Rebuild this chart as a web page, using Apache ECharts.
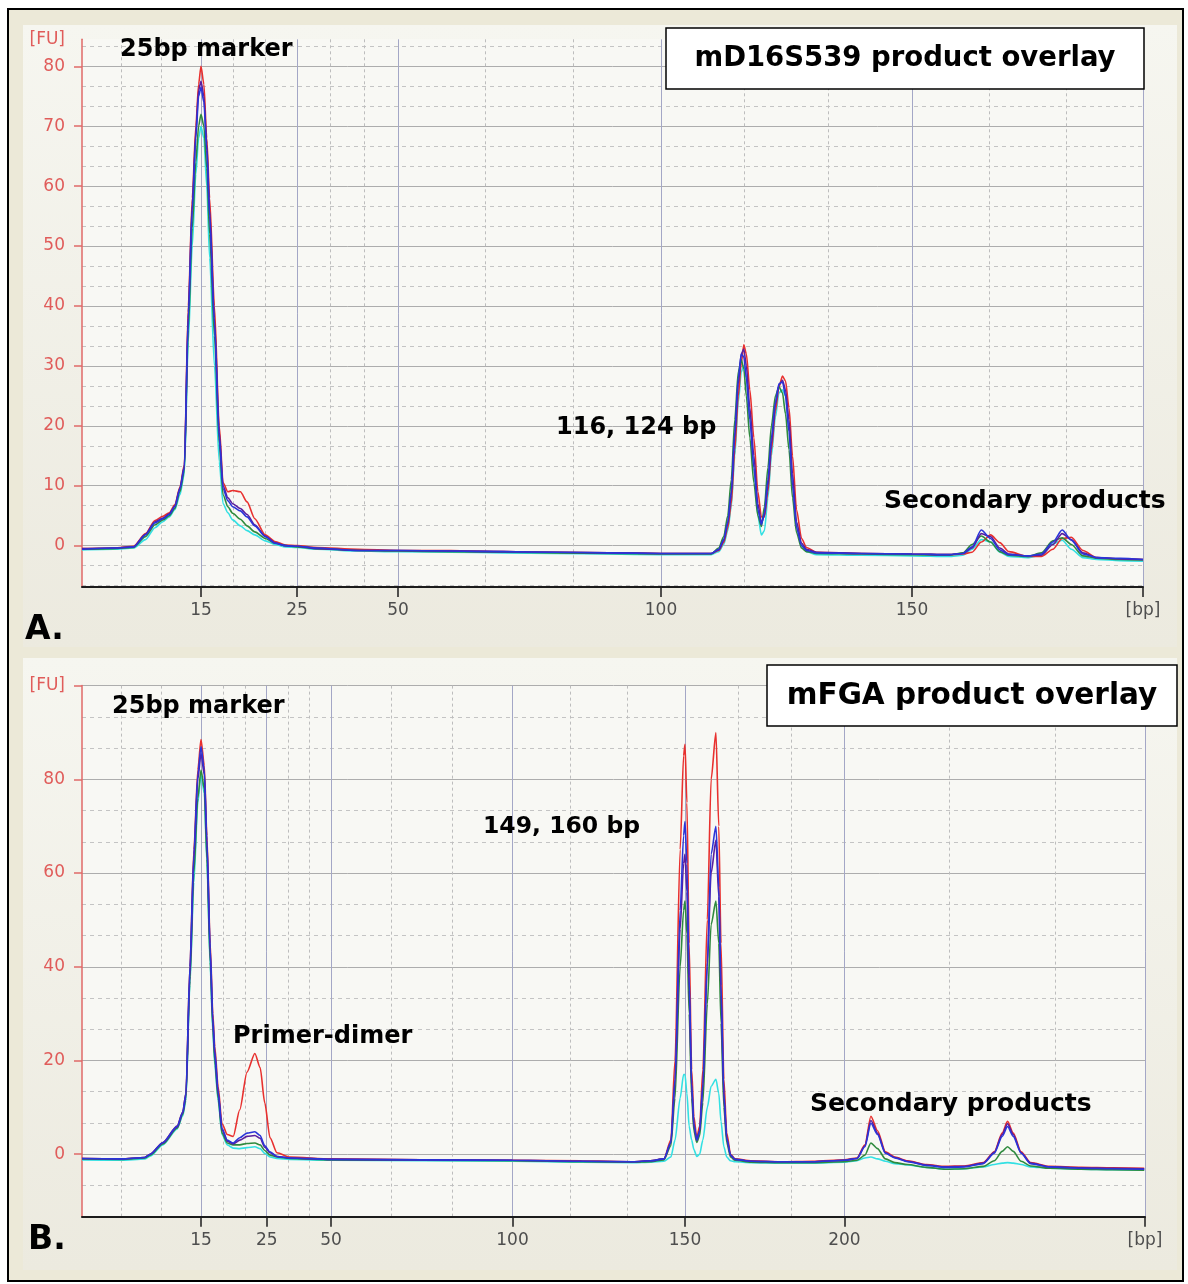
<!DOCTYPE html>
<html><head><meta charset="utf-8">
<script src="https://cdn.jsdelivr.net/npm/echarts@6/dist/echarts.min.js"></script>
<style>html,body{margin:0;padding:0;background:#fff}#c{width:1188px;height:1284px}</style>
</head><body><div id="c"></div>
<script>
// ---------- Size-standard ladder calibration (bp -> migration time, s) ----------
const ladderBpA   = [0, 15, 25, 50, 100, 150, 200];
const ladderTimeA = [40.00, 44.486, 48.106, 51.913, 61.828, 71.291, 80.00];
const ladderBpB   = [0, 15, 25, 50, 100, 150, 200, 300];
const ladderTimeB = [40.00, 44.478, 46.950, 49.370, 56.199, 62.690, 68.688, 80.564];
const tickBpA = [15, 25, 50, 100, 150];
const tickBpB = [15, 25, 50, 100, 150, 200];
const fuTicksA = [0, 10, 20, 30, 40, 50, 60, 70, 80];
const fuTicksB = [0, 20, 40, 60, 80, 100];
const seriesNames = ['Sample 1', 'Sample 2', 'Sample 3', 'Sample 4', 'Sample 5'];

// ---------- Panel A : mD16S539 (x in bp, y in FU) ----------
const bpA = [
  0, 4, 6.5, 8, 9.2, 10.2, 11, 11.7, 12.35, 12.9,
  13.4, 13.9, 14.35, 14.7, 15, 15.3, 15.6, 15.9, 16.4, 16.9,
  17.3, 17.8, 18.3, 19.1, 19.8, 20.6, 21.7, 22.7, 23.8, 25,
  30, 40, 50, 60, 70, 80, 90, 100, 105, 110,
  111.5, 112.5, 113.3, 114, 114.7, 115.4, 116, 116.5, 117, 117.7,
  118.5, 119.3, 120, 120.6, 121.3, 122, 122.8, 123.5, 124.2, 124.8,
  125.5, 126.2, 127, 128, 129, 131, 140, 150, 158, 161,
  163, 165, 167, 169, 171, 175, 178, 180.5, 182.5, 184.5,
  187, 190, 195, 200
];
const redA = [
  -0.5, -0.4, -0.1, 2.0, 4.2, 4.9, 5.5, 6.8, 9.8, 13.5,
  40, 58, 70, 77, 80, 77, 68, 58, 40, 20,
  10.5, 9.0, 9.2, 9.0, 7.3, 4.5, 1.8, 0.7, 0.1, 0,
  -0.3, -0.6, -0.8, -0.8, -1.0, -1.1, -1.2, -1.3, -1.3, -1.3,
  -0.8, 0.5, 3, 7, 16, 25, 30.5, 33.5, 32, 26,
  18, 9, 4.8, 4.8, 9, 16, 22.5, 26.5, 28.3, 27.5,
  23, 15, 6, 1.2, -0.3, -1.1, -1.3, -1.4, -1.5, -1.4,
  -1.1, 0.6, 1.8, 0.5, -1.0, -1.8, -1.8, -0.6, 1.2, 1.4,
  -0.8, -2.0, -2.2, -2.3
];
const blueA = [
  -0.6, -0.4, -0.2, 1.8, 3.8, 4.5, 5.2, 6.5, 9.5, 13,
  38, 56, 68, 75, 76.5, 74, 66, 55, 37, 18,
  9.5, 7.5, 6.5, 5.8, 4.8, 3.3, 1.5, 0.4, 0, -0.1,
  -0.4, -0.8, -0.8, -0.9, -1.0, -1.1, -1.2, -1.3, -1.3, -1.3,
  -0.6, 1.0, 4, 9, 19, 28, 32, 31.5, 28, 21,
  13, 6, 3.5, 5.5, 11, 18, 24, 27, 27.3, 25,
  19, 10, 3, 0, -0.8, -1.2, -1.3, -1.4, -1.5, -1.3,
  -0.2, 2.6, 1.2, -0.7, -1.5, -1.7, -1.4, 0.6, 2.6, 0.9,
  -1.4, -2.0, -2.1, -2.3
];
const purpleA = [
  -0.5, -0.4, -0.2, 1.9, 4.0, 4.6, 5.3, 6.6, 9.6, 13.2,
  39, 57, 69, 76, 77.5, 75, 67, 56, 38, 19,
  10, 8, 7, 6.2, 5.2, 3.5, 1.6, 0.5, 0.0, -0.1,
  -0.5, -0.8, -0.8, -0.9, -1.0, -1.1, -1.2, -1.3, -1.3, -1.3,
  -0.7, 0.8, 3.6, 8.4, 18, 27, 32, 32.8, 30, 23,
  15, 7, 3.8, 5, 10, 17, 23.5, 26.8, 27.6, 26,
  21, 12, 4, 0.4, -0.6, -1.1, -1.3, -1.4, -1.5, -1.3,
  -0.4, 2.0, 1.5, -0.4, -1.4, -1.7, -1.6, 0.2, 2.0, 1.0,
  -1.2, -2.0, -2.2, -2.3
];
const greenA = [
  -0.6, -0.5, -0.3, 1.5, 3.5, 4.3, 5.0, 6.2, 9.0, 12.5,
  36, 53, 64, 70, 72, 70, 63, 52, 35, 17,
  8.5, 6.5, 5.4, 4.4, 3.3, 2.3, 1.2, 0.4, 0, -0.2,
  -0.5, -0.8, -0.9, -1.0, -1.1, -1.2, -1.3, -1.4, -1.4, -1.4,
  -0.4, 1.5, 5, 11, 21, 29, 31, 29.5, 25, 18,
  10.5, 5, 3.2, 6.5, 13, 20, 25, 26.5, 25.5, 22,
  16, 8, 2.2, -0.4, -1.0, -1.3, -1.4, -1.5, -1.6, -1.2,
  0.2, 1.6, 0.6, -1.0, -1.6, -1.8, -1.2, 0.8, 1.3, 0.2,
  -1.7, -2.1, -2.3, -2.4
];
const cyanA = [
  -0.7, -0.6, -0.4, 1.0, 3.0, 4.0, 4.8, 6.0, 8.5, 12,
  34, 50, 62, 68, 70, 68, 60, 48, 30, 14,
  7.0, 5.5, 4.3, 3.3, 2.5, 1.8, 0.8, 0.2, -0.2, -0.3,
  -0.6, -0.9, -1.0, -1.1, -1.2, -1.3, -1.4, -1.5, -1.5, -1.5,
  -1.0, 0.2, 2.5, 6.5, 15, 24, 29, 30, 28, 22,
  13, 5, 1.8, 2.5, 8, 15, 21.5, 25.5, 26, 25,
  20, 11, 3.5, 0, -1.0, -1.5, -1.6, -1.7, -1.8, -1.6,
  -0.6, 1.0, 0.6, -1.1, -1.8, -2.0, -1.6, 0.3, 0.9, -0.6,
  -2.0, -2.3, -2.5, -2.6
];

// ---------- Panel B : mFGA ----------
const bpB = [
  0, 5, 7.9, 8.6, 10.2, 12, 12.7, 13.1, 13.6, 14.1,
  14.6, 15, 15.5, 15.9, 16.4, 16.8, 17.1, 17.6, 18.2, 19,
  19.9, 20.9, 22, 23.2, 24, 24.7, 26.3, 29, 34, 50,
  75, 100, 120, 135, 140, 143.9, 145.9, 147.1, 148.6, 149.6,
  150, 150.6, 151.3, 152.1, 152.8, 153.7, 154.6, 155.6, 157, 158.2,
  159.7, 160.6, 161.3, 162.2, 163.1, 164.3, 165.7, 170.7, 180, 190,
  200, 204, 206.5, 208.4, 210.5, 213, 216, 220, 226, 232,
  238, 244, 247.5, 250, 251.7, 253.5, 256, 259, 265, 275,
  285, 295
];
const redB = [
  -0.9, -1.0, -0.7, 0, 2.5, 6, 9, 13, 40, 65,
  82, 88.5, 83, 68, 45, 30, 23, 14.5, 6.5, 4.2,
  3.8, 9.5, 17.5, 21.5, 18.5, 11, 3.5, 0.3, -0.6, -1.0,
  -1.2, -1.3, -1.4, -1.6, -1.4, -1.0, 3, 20, 65, 85,
  87.5, 75, 45, 18, 8, 3.5, 6, 18, 50, 80,
  90, 70, 45, 16, 4.5, 0, -1.0, -1.4, -1.6, -1.5,
  -1.2, -0.8, 2, 8.1, 5, 0.5, -0.6, -1.4, -2.2, -2.6,
  -2.5, -1.8, 0.5, 4.5, 7, 4.5, 0.5, -1.8, -2.6, -2.8,
  -2.9, -3.0
];
const blueB = [
  -0.9, -1.0, -0.7, 0, 2.5, 6, 9, 13, 40, 64,
  81, 87, 82, 67, 44, 29, 22, 13.5, 5.5, 3.0,
  2.4, 3.5, 4.5, 4.8, 4.0, 1.8, 0.5, -0.5, -0.8, -1.1,
  -1.2, -1.3, -1.5, -1.6, -1.4, -1.0, 2.5, 16, 52, 68,
  71, 62, 38, 15, 6.5, 3, 5, 15, 41, 64,
  70, 57, 36, 13, 3.5, -0.2, -1.1, -1.5, -1.6, -1.6,
  -1.3, -0.9, 1.6, 6.6, 4.2, 0.2, -0.8, -1.6, -2.4, -2.8,
  -2.7, -2.0, 0.2, 3.8, 5.9, 3.8, 0.2, -2.0, -2.7, -3.0,
  -3.1, -3.2
];
const purpleB = [
  -0.9, -1.0, -0.7, 0, 2.4, 5.8, 8.8, 12.5, 38, 63,
  80, 85.5, 81, 66, 43, 28, 21, 13, 5.2, 2.8,
  2.2, 3.0, 3.8, 4.0, 3.4, 1.5, 0.3, -0.5, -0.8, -1.1,
  -1.2, -1.3, -1.5, -1.6, -1.4, -1.0, 2.4, 15, 48, 62,
  64, 56, 35, 14, 6, 3, 5, 14, 40, 60,
  67, 55, 34, 12, 3.2, -0.3, -1.1, -1.5, -1.6, -1.6,
  -1.3, -0.9, 1.8, 7.2, 4.5, 0.3, -0.7, -1.5, -2.3, -2.7,
  -2.6, -1.9, 0.4, 4.2, 6.5, 4.2, 0.3, -1.9, -2.7, -2.9,
  -3.0, -3.1
];
const greenB = [
  -1.0, -1.1, -0.8, -0.2, 2.2, 5.6, 8.5, 12, 37, 60,
  76, 82, 78, 63, 41, 27, 20, 12, 4.5, 2.4,
  2.0, 2.0, 2.3, 2.4, 2.0, 0.8, -0.2, -0.6, -0.9, -1.2,
  -1.3, -1.4, -1.6, -1.7, -1.6, -1.2, 1.8, 12, 40, 52,
  54, 47, 30, 12, 5, 2.5, 4, 11, 32, 49,
  54, 45, 28, 10, 2.5, -0.6, -1.3, -1.7, -1.8, -1.8,
  -1.6, -1.3, -0.2, 2.4, 1.2, -1.0, -1.8, -2.2, -2.8, -3.2,
  -3.1, -2.6, -1.4, 0.6, 1.6, 0.6, -1.5, -2.5, -3.0, -3.2,
  -3.3, -3.4
];
const cyanB = [
  -1.2, -1.3, -1.0, -0.4, 2.0, 5.4, 8.2, 11.5, 36, 58,
  75, 81, 77, 62, 40, 26, 19, 11.5, 4.2, 2.0,
  1.3, 1.2, 1.4, 1.6, 1.2, 0.2, -0.6, -0.9, -1.1, -1.3,
  -1.4, -1.5, -1.7, -1.8, -1.7, -1.5, -0.6, 3, 12, 17,
  17, 13, 6, 3, 1, -0.5, 0, 3, 10, 14.5,
  16, 13, 7, 1.6, -0.6, -1.4, -1.6, -1.8, -1.9, -1.9,
  -1.7, -1.4, -0.8, -0.6, -1.0, -1.5, -2.0, -2.3, -2.8, -3.2,
  -3.1, -2.7, -2.2, -1.9, -1.8, -1.9, -2.2, -2.7, -3.0, -3.2,
  -3.3, -3.4
];

// ---------- helpers ----------
function toTime(bp, L, T) {
  let i = 0;
  while (i < L.length - 2 && bp > L[i + 1]) i++;
  return T[i] + (bp - L[i]) * (T[i + 1] - T[i]) / (L[i + 1] - L[i]);
}
function thirdsBetween(T, max) {
  const out = [];
  for (let i = 0; i < T.length - 1; i++) {
    for (let k = 1; k <= 2; k++) {
      const v = T[i] + (T[i + 1] - T[i]) * k / 3;
      if (v < max) out.push(v);
    }
  }
  return out;
}
function minorY(step, min, max) {
  const out = [];
  for (let k = Math.ceil(min * 3 / step); k * step / 3 < max; k++) {
    if (k % 3 !== 0) { const v = k * step / 3; if (v > min) out.push(v); }
  }
  return out;
}

const X_MIN = 40, X_MAX = 80;
const A_YMIN = -6.9, A_YMAX = 84.5;
const B_YMIN = -13.333, B_YMAX = 100;

const colors = ['#33E0E3', '#E8302E', '#2E8A3E', '#5B1E9E', '#2A34D8'];
const FONT = '"DejaVu Sans", Verdana, sans-serif';

function xAxes(gridIndex, L, T, tickBp) {
  const ticks = tickBp.map(b => toTime(b, L, T)).concat([X_MAX]);
  return [{
    type: 'value', gridIndex, min: X_MIN, max: X_MAX, position: 'bottom',
    axisLine: { show: true, onZero: false, lineStyle: { color: '#1c1c1c', width: 2 } },
    axisTick: { show: true, customValues: ticks, length: 10, lineStyle: { color: '#1c1c1c', width: 1.5 } },
    axisLabel: {
      show: true, customValues: ticks, margin: 15, color: '#4e4e4e', fontSize: 17, fontFamily: FONT,
      formatter: (v) => {
        if (Math.abs(v - X_MAX) < 1e-6) return '[bp]';
        const idx = ticks.findIndex(t => Math.abs(t - v) < 1e-6);
        return idx >= 0 ? String(tickBp[idx]) : '';
      }
    },
    splitLine: { show: true, lineStyle: { color: '#A4A7C6', width: 1 } }
  }, {
    type: 'value', gridIndex, min: X_MIN, max: X_MAX, position: 'top',
    axisLine: { show: false }, axisLabel: { show: false },
    axisTick: { show: false, customValues: thirdsBetween(T, X_MAX) },
    splitLine: { show: true, lineStyle: { color: '#BDBDBD', width: 1, type: [3, 3] } }
  }];
}
function yAxes(gridIndex, min, max, major, step) {
  const lab = major.filter(v => v < max - 1e-6).concat([max]);
  return [{
    type: 'value', gridIndex, min, max, position: 'left',
    axisLine: { show: true, onZero: false, lineStyle: { color: '#E06A68', width: 1.5 } },
    axisTick: { show: true, customValues: major, length: 8, lineStyle: { color: '#E06A68', width: 1.5 } },
    axisLabel: {
      show: true, customValues: lab, margin: 17, color: '#E05C5A', fontSize: 17, fontFamily: FONT,
      formatter: (v) => Math.abs(v - max) < 1e-6 ? '[FU]' : String(v)
    },
    splitLine: { show: true, lineStyle: { color: '#ADADAD', width: 1 } }
  }, {
    type: 'value', gridIndex, min, max, position: 'right',
    axisLine: { show: false }, axisLabel: { show: false },
    axisTick: { show: false, customValues: minorY(step, min, max) },
    splitLine: { show: true, lineStyle: { color: '#C4C4C4', width: 1, type: [4, 4] } }
  }];
}
function mk(i, bp, ys, L, T, xi, yi) {
  return {
    type: 'line', name: seriesNames[i], xAxisIndex: xi, yAxisIndex: yi,
    data: bp.map((b, k) => [toTime(b, L, T), ys[k]]),
    symbol: 'none', showSymbol: false, smooth: 0.25, smoothMonotone: 'x',
    lineStyle: { color: colors[i], width: 1.6 }, itemStyle: { color: colors[i] },
    silent: true, animation: false, z: 3 + i
  };
}
function txt(x, y, s, size, align) {
  return { type: 'text', x, y, z: 100,
    style: { text: s, fill: '#000', font: 'bold ' + size + 'px ' + FONT, align: align || 'left', verticalAlign: 'middle' } };
}
const panelFill = { type: 'linear', x: 0, y: 0, x2: 0, y2: 1,
  colorStops: [{ offset: 0, color: '#F6F6F0' }, { offset: 1, color: '#ECEADF' }] };

const chart = echarts.init(document.getElementById('c'), null, { renderer: 'canvas' });
chart.setOption({
  backgroundColor: '#ffffff',
  animation: false,
  grid: [
    { left: 82, top: 39.3, width: 1061, height: 547.7, show: true, backgroundColor: '#F8F8F4', borderWidth: 0, outerBoundsMode: 'none', containLabel: false },
    { left: 82, top: 685.6, width: 1063, height: 531.1, show: true, backgroundColor: '#F8F8F4', borderWidth: 0, outerBoundsMode: 'none', containLabel: false }
  ],
  xAxis: [].concat(xAxes(0, ladderBpA, ladderTimeA, tickBpA), xAxes(1, ladderBpB, ladderTimeB, tickBpB)),
  yAxis: [].concat(yAxes(0, A_YMIN, A_YMAX, fuTicksA, 10), yAxes(1, B_YMIN, B_YMAX, fuTicksB, 20)),
  series: [
    mk(0, bpA, cyanA, ladderBpA, ladderTimeA, 0, 0),
    mk(1, bpA, redA, ladderBpA, ladderTimeA, 0, 0),
    mk(2, bpA, greenA, ladderBpA, ladderTimeA, 0, 0),
    mk(3, bpA, purpleA, ladderBpA, ladderTimeA, 0, 0),
    mk(4, bpA, blueA, ladderBpA, ladderTimeA, 0, 0),
    mk(0, bpB, cyanB, ladderBpB, ladderTimeB, 2, 2),
    mk(1, bpB, redB, ladderBpB, ladderTimeB, 2, 2),
    mk(2, bpB, greenB, ladderBpB, ladderTimeB, 2, 2),
    mk(3, bpB, purpleB, ladderBpB, ladderTimeB, 2, 2),
    mk(4, bpB, blueB, ladderBpB, ladderTimeB, 2, 2)
  ],
  graphic: [
    { type: 'rect', z: -20, shape: { x: 8, y: 9, width: 1175, height: 1272 }, style: { fill: '#ECE9D8', stroke: '#000', lineWidth: 2 } },
    { type: 'rect', z: -19, shape: { x: 23, y: 25, width: 1154, height: 622 }, style: { fill: panelFill } },
    { type: 'rect', z: -19, shape: { x: 23, y: 658, width: 1154, height: 612 }, style: { fill: panelFill } },
    { type: 'rect', z: 99, shape: { x: 666, y: 28, width: 478, height: 61 }, style: { fill: '#fff', stroke: '#000', lineWidth: 1.5 } },
    { type: 'rect', z: 99, shape: { x: 767, y: 665, width: 410, height: 61 }, style: { fill: '#fff', stroke: '#000', lineWidth: 1.5 } },
    txt(905, 59, 'mD16S539 product overlay', 27.5, 'center'),
    txt(972, 696, 'mFGA product overlay', 29.5, 'center'),
    txt(120, 50, '25bp marker', 24),
    txt(556, 428, '116, 124 bp', 24),
    txt(884, 501, 'Secondary products', 25),
    txt(112, 707, '25bp marker', 24),
    txt(233, 1037, 'Primer-dimer', 24),
    txt(483, 827, '149, 160 bp', 23.5),
    txt(810, 1104, 'Secondary products', 25),
    txt(25, 630, 'A.', 33),
    txt(28, 1240, 'B.', 33)
  ]
});
</script></body></html>
